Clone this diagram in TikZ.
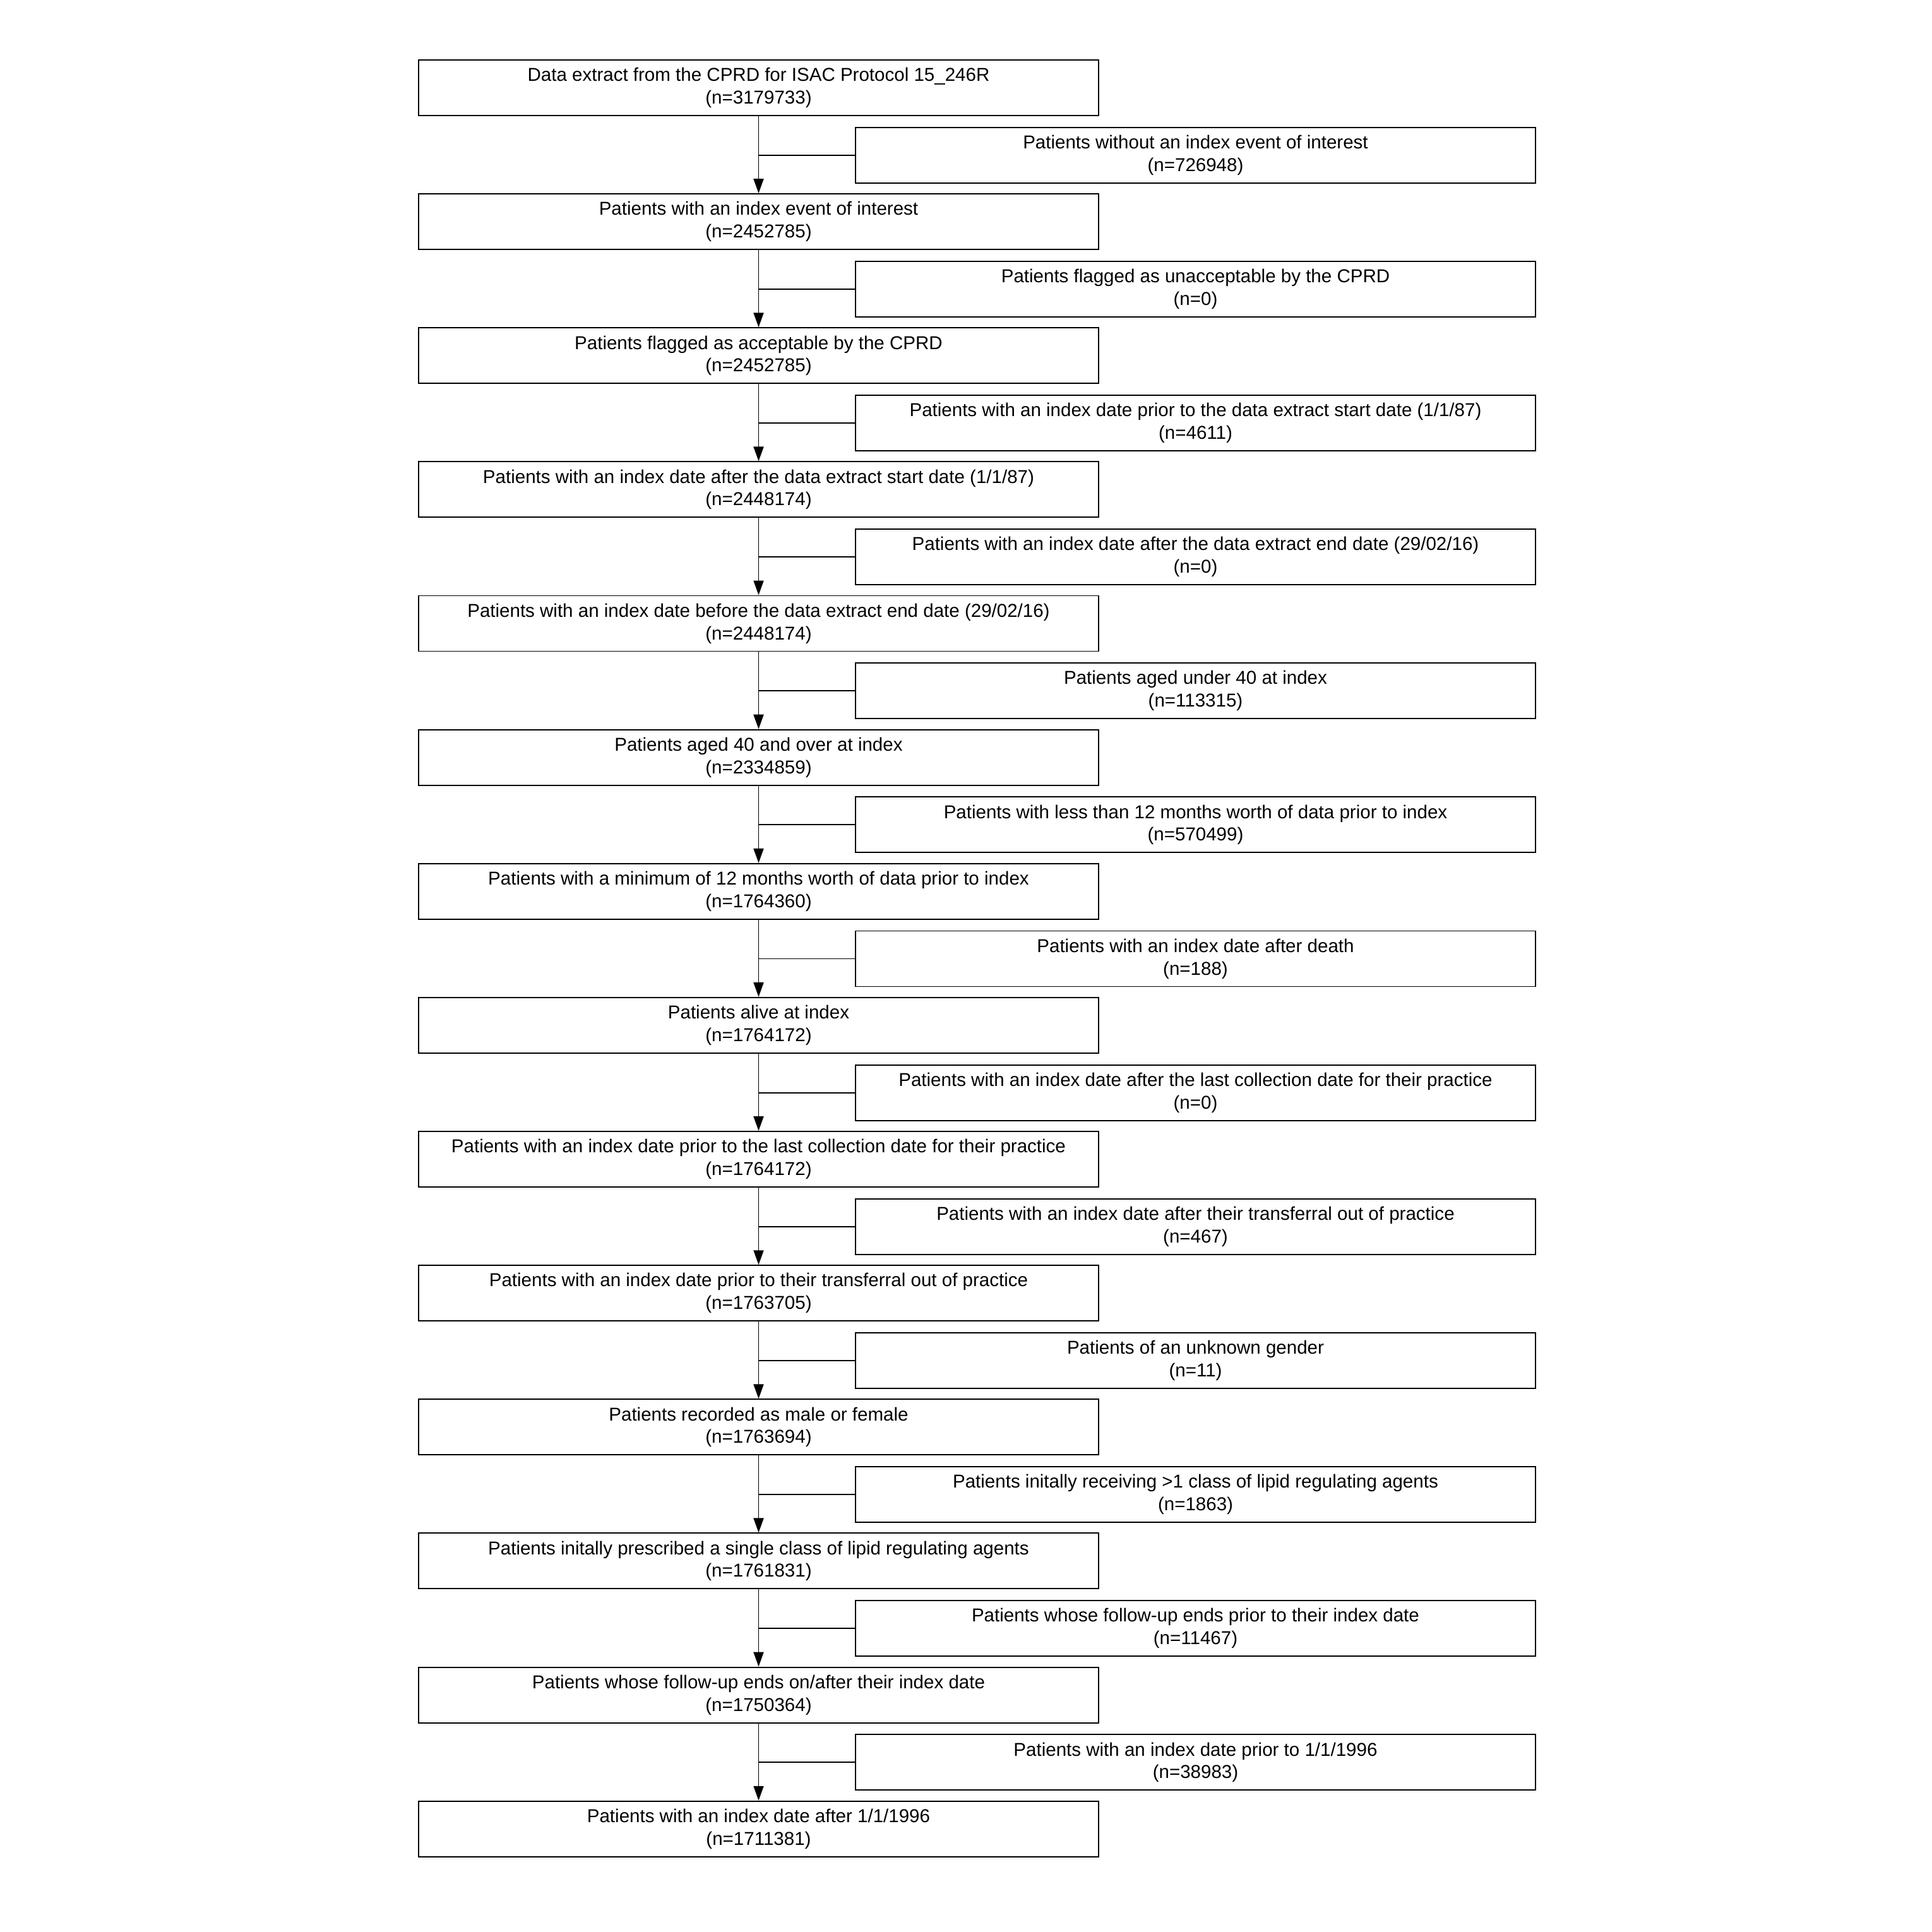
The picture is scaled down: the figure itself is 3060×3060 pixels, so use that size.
\documentclass[tikz,border=0pt]{standalone}
\usepackage{fontspec}
\setmainfont{Liberation Sans}
\usepackage{tikz}
\usetikzlibrary{arrows.meta, positioning}

\begin{document}
\begin{tikzpicture}[x=0.1mm, y=-0.1mm, line width=0.55pt,
  every node/.style={font=\fontsize{8.4}{10.2}\selectfont},
  stage/.style={draw, align=center, inner sep=0pt, minimum width=10.77cm, minimum height=0.88cm},
  excluded/.style={stage},
  edge/.style={-{Triangle[length=0.23cm, width=0.16cm]}},
  branch/.style={-},
]
\useasboundingbox (0,0) rectangle (3060,3060);

% Included patients
  \node[stage] (S0) at (1201.5,139.0) {Data extract from the CPRD for ISAC Protocol 15\_246R\\(n=3179733)};
  \node[stage] (S1) at (1201.5,351.1) {Patients with an index event of interest\\(n=2452785)};
  \node[stage] (S2) at (1201.5,563.3) {Patients flagged as acceptable by the CPRD\\(n=2452785)};
  \node[stage] (S3) at (1201.5,775.4) {Patients with an index date after the data extract start date (1/1/87)\\(n=2448174)};
  \node[stage] (S4) at (1201.5,987.5) {Patients with an index date before the data extract end date (29/02/16)\\(n=2448174)};
  \node[stage] (S5) at (1201.5,1199.7) {Patients aged 40 and over at index\\(n=2334859)};
  \node[stage] (S6) at (1201.5,1411.8) {Patients with a minimum of 12 months worth of data prior to index\\(n=1764360)};
  \node[stage] (S7) at (1201.5,1623.9) {Patients alive at index\\(n=1764172)};
  \node[stage] (S8) at (1201.5,1836.0) {Patients with an index date prior to the last collection date for their practice\\(n=1764172)};
  \node[stage] (S9) at (1201.5,2048.2) {Patients with an index date prior to their transferral out of practice\\(n=1763705)};
  \node[stage] (S10) at (1201.5,2260.3) {Patients recorded as male or female\\(n=1763694)};
  \node[stage] (S11) at (1201.5,2472.4) {Patients initally prescribed a single class of lipid regulating agents\\(n=1761831)};
  \node[stage] (S12) at (1201.5,2684.6) {Patients whose follow-up ends on/after their index date\\(n=1750364)};
  \node[stage] (S13) at (1201.5,2896.7) {Patients with an index date after 1/1/1996\\(n=1711381)};

% Excluded patients
  \node[excluded] (X1) at (1893.5,245.7) {Patients without an index event of interest\\(n=726948)};
  \node[excluded] (X2) at (1893.5,457.8) {Patients flagged as unacceptable by the CPRD\\(n=0)};
  \node[excluded] (X3) at (1893.5,670.0) {Patients with an index date prior to the data extract start date (1/1/87)\\(n=4611)};
  \node[excluded] (X4) at (1893.5,882.1) {Patients with an index date after the data extract end date (29/02/16)\\(n=0)};
  \node[excluded] (X5) at (1893.5,1094.2) {Patients aged under 40 at index\\(n=113315)};
  \node[excluded] (X6) at (1893.5,1306.4) {Patients with less than 12 months worth of data prior to index\\(n=570499)};
  \node[excluded] (X7) at (1893.5,1518.5) {Patients with an index date after death\\(n=188)};
  \node[excluded] (X8) at (1893.5,1730.6) {Patients with an index date after the last collection date for their practice\\(n=0)};
  \node[excluded] (X9) at (1893.5,1942.8) {Patients with an index date after their transferral out of practice\\(n=467)};
  \node[excluded] (X10) at (1893.5,2154.9) {Patients of an unknown gender\\(n=11)};
  \node[excluded] (X11) at (1893.5,2367.0) {Patients initally receiving >1 class of lipid regulating agents\\(n=1863)};
  \node[excluded] (X12) at (1893.5,2579.2) {Patients whose follow-up ends prior to their index date\\(n=11467)};
  \node[excluded] (X13) at (1893.5,2791.3) {Patients with an index date prior to 1/1/1996\\(n=38983)};

% Main flow
  \draw[edge] (S0) -- (S1);
  \draw[edge] (S1) -- (S2);
  \draw[edge] (S2) -- (S3);
  \draw[edge] (S3) -- (S4);
  \draw[edge] (S4) -- (S5);
  \draw[edge] (S5) -- (S6);
  \draw[edge] (S6) -- (S7);
  \draw[edge] (S7) -- (S8);
  \draw[edge] (S8) -- (S9);
  \draw[edge] (S9) -- (S10);
  \draw[edge] (S10) -- (S11);
  \draw[edge] (S11) -- (S12);
  \draw[edge] (S12) -- (S13);

% Exclusions
  \draw[branch] (X1.west -| S0.south) -- (X1.west);
  \draw[branch] (X2.west -| S1.south) -- (X2.west);
  \draw[branch] (X3.west -| S2.south) -- (X3.west);
  \draw[branch] (X4.west -| S3.south) -- (X4.west);
  \draw[branch] (X5.west -| S4.south) -- (X5.west);
  \draw[branch] (X6.west -| S5.south) -- (X6.west);
  \draw[branch] (X7.west -| S6.south) -- (X7.west);
  \draw[branch] (X8.west -| S7.south) -- (X8.west);
  \draw[branch] (X9.west -| S8.south) -- (X9.west);
  \draw[branch] (X10.west -| S9.south) -- (X10.west);
  \draw[branch] (X11.west -| S10.south) -- (X11.west);
  \draw[branch] (X12.west -| S11.south) -- (X12.west);
  \draw[branch] (X13.west -| S12.south) -- (X13.west);
\end{tikzpicture}
\end{document}
